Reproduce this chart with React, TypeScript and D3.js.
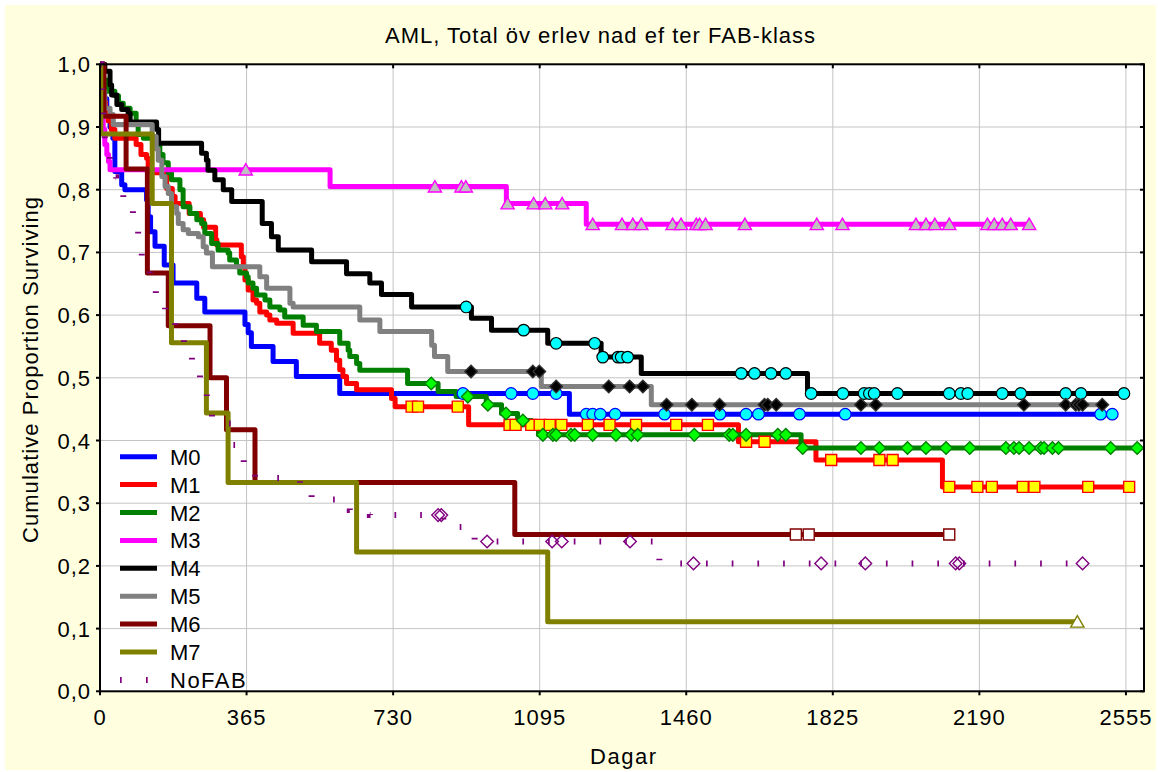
import React from 'react';
import * as d3 from 'd3';

type Step = [number, number];

// Kaplan–Meier survival steps per FAB class: [day, cumulative proportion surviving]
const m0Steps: Step[] = [[0,1],[4,0.97],[10,0.945],[17,0.92],[25,0.9],[32,0.882],[37,0.829],[54,0.808],[62,0.8],[116,0.784],[120,0.757],[126,0.733],[137,0.71],[160,0.68],[182,0.651],[241,0.627],[261,0.605],[361,0.585],[369,0.572],[377,0.55],[431,0.526],[489,0.502],[597,0.475],[1169,0.442]];
const m1Steps: Step[] = [[0,1],[2,0.985],[4,0.97],[7,0.955],[10,0.94],[14,0.925],[20,0.91],[28,0.896],[37,0.882],[90,0.872],[102,0.856],[116,0.85],[120,0.835],[128,0.827],[166,0.802],[180,0.789],[187,0.778],[222,0.762],[250,0.752],[258,0.74],[288,0.72],[291,0.712],[352,0.693],[357,0.677],[361,0.656],[369,0.64],[381,0.624],[390,0.619],[398,0.605],[415,0.6],[423,0.592],[440,0.587],[481,0.571],[547,0.555],[576,0.544],[589,0.528],[597,0.513],[605,0.502],[614,0.491],[639,0.481],[726,0.467],[735,0.454],[918,0.425],[1590,0.398],[1783,0.369],[2098,0.326]];
const m2Steps: Step[] = [[0,1],[2,0.99],[8,0.975],[17,0.957],[37,0.95],[46,0.938],[58,0.93],[75,0.922],[90,0.905],[95,0.888],[108,0.882],[137,0.872],[149,0.856],[157,0.843],[170,0.827],[178,0.816],[199,0.8],[207,0.773],[224,0.762],[241,0.752],[253,0.746],[261,0.73],[278,0.714],[294,0.704],[319,0.699],[323,0.688],[340,0.677],[348,0.667],[365,0.661],[369,0.651],[381,0.643],[390,0.632],[411,0.624],[423,0.613],[448,0.608],[460,0.597],[506,0.584],[539,0.574],[597,0.555],[618,0.544],[622,0.534],[639,0.523],[647,0.512],[766,0.491],[842,0.478],[887,0.47],[962,0.457],[1000,0.443],[1040,0.432],[1075,0.422],[1092,0.409],[1746,0.388]];
const m3Steps: Step[] = [[0,1],[1,0.975],[2,0.95],[3,0.925],[4,0.91],[8,0.896],[12,0.872],[17,0.856],[21,0.845],[25,0.832],[573,0.805],[1012,0.778],[1211,0.745]];
const m4Steps: Step[] = [[0,1],[12,0.989],[25,0.967],[29,0.951],[42,0.936],[54,0.928],[70,0.922],[75,0.908],[141,0.896],[146,0.874],[253,0.858],[265,0.847],[269,0.831],[286,0.816],[307,0.8],[328,0.781],[404,0.746],[427,0.725],[444,0.704],[527,0.685],[614,0.666],[672,0.651],[701,0.633],[776,0.613],[925,0.595],[975,0.576],[1115,0.555],[1248,0.533],[1348,0.507],[1762,0.475]];
const m5Steps: Step[] = [[0,1],[3,0.975],[4,0.957],[12,0.93],[25,0.92],[33,0.904],[130,0.885],[140,0.865],[145,0.847],[154,0.821],[162,0.805],[170,0.794],[178,0.773],[191,0.762],[195,0.746],[207,0.736],[220,0.73],[245,0.725],[257,0.709],[265,0.699],[280,0.677],[398,0.661],[415,0.643],[473,0.619],[481,0.613],[647,0.592],[697,0.574],[826,0.552],[833,0.534],[866,0.51],[1099,0.486],[1373,0.457]];
const m6Steps: Step[] = [[0,1],[10,0.917],[65,0.833],[118,0.667],[170,0.583],[274,0.5],[315,0.417],[386,0.333],[1033,0.25]];
const m7Steps: Step[] = [[0,1],[2,0.889],[130,0.778],[178,0.556],[265,0.444],[319,0.333],[639,0.222],[1115,0.111]];
const noFabSteps: Step[] = [[0,1],[4,0.95],[8,0.906],[12,0.871],[17,0.853],[25,0.835],[33,0.82],[40,0.805],[58,0.778],[82,0.752],[95,0.717],[104,0.683],[124,0.659],[139,0.624],[162,0.603],[187,0.579],[209,0.547],[229,0.526],[249,0.491],[266,0.459],[279,0.427],[328,0.393],[358,0.358],[386,0.34],[498,0.329],[527,0.306],[622,0.289],[672,0.281],[855,0.262],[933,0.239],[1393,0.204]];

// Censored observations (days)
const m0Censored = [904,1024,1078,1136,1211,1227,1246,1283,1406,1544,1609,1640,1742,1856,2492,2521];
const m1Censored = [776,792,891,1020,1035,1074,1095,1120,1149,1215,1269,1335,1435,1514,1609,1655,1821,1941,1974,2115,2185,2221,2298,2327,2461,2563];
const m2Censored = [825,916,966,1011,1053,1103,1128,1136,1173,1182,1227,1285,1323,1339,1480,1567,1576,1609,1688,1708,1750,1895,1941,2011,2057,2107,2166,2256,2276,2289,2314,2343,2351,2372,2387,2517,2583];
const m3Censored = [363,834,900,911,1015,1080,1109,1151,1227,1300,1327,1348,1426,1447,1485,1493,1508,1606,1785,1849,2032,2057,2079,2115,2210,2227,2247,2268,2314];
const m4Censored = [912,1055,1136,1232,1252,1290,1298,1314,1597,1630,1671,1708,1771,1850,1903,1916,1928,1986,2115,2144,2161,2247,2293,2405,2443,2550];
const m5Censored = [924,1078,1094,1136,1267,1319,1352,1411,1474,1543,1655,1663,1684,1895,1932,2301,2405,2430,2438,2447,2496];
const m6Censored = [1733,1765,2115];
const m7Censored = [2434];
const noFabCensored = [842,850,964,1126,1150,1320,1478,1796,1906,2131,2140,2447];

const seriesNames = ['M0','M1','M2','M3','M4','M5','M6','M7','NoFAB'];
const xTicks = [0,365,730,1095,1460,1825,2190,2555];
const yTicks = [0,0.1,0.2,0.3,0.4,0.5,0.6,0.7,0.8,0.9,1.0];
const yTickLabels = ['0,0','0,1','0,2','0,3','0,4','0,5','0,6','0,7','0,8','0,9','1,0'];

type Shape = 'circle' | 'square' | 'diamond' | 'triangle';
interface Series {
  name: string;
  steps: Step[];
  censored: number[];
  color: string;
  shape: Shape;
  fill: string;
  stroke: string;
  dashed?: boolean;
}

const series: Series[] = [
  { name: seriesNames[0], steps: m0Steps, censored: m0Censored, color: '#0000FF', shape: 'circle', fill: '#00FFFF', stroke: '#0000FF' },
  { name: seriesNames[1], steps: m1Steps, censored: m1Censored, color: '#FF0000', shape: 'square', fill: '#FFFF00', stroke: '#FF0000' },
  { name: seriesNames[2], steps: m2Steps, censored: m2Censored, color: '#008000', shape: 'diamond', fill: '#00FF00', stroke: '#008000' },
  { name: seriesNames[3], steps: m3Steps, censored: m3Censored, color: '#FF00FF', shape: 'triangle', fill: '#C0C0C0', stroke: '#FF00FF' },
  { name: seriesNames[4], steps: m4Steps, censored: m4Censored, color: '#000000', shape: 'circle', fill: '#00FFFF', stroke: '#000000' },
  { name: seriesNames[5], steps: m5Steps, censored: m5Censored, color: '#808080', shape: 'diamond', fill: '#000000', stroke: '#303030' },
  { name: seriesNames[6], steps: m6Steps, censored: m6Censored, color: '#800000', shape: 'square', fill: '#FFFFFF', stroke: '#800000' },
  { name: seriesNames[7], steps: m7Steps, censored: m7Censored, color: '#808000', shape: 'triangle', fill: '#FFFFFF', stroke: '#808000' },
  { name: seriesNames[8], steps: noFabSteps, censored: noFabCensored, color: '#800080', shape: 'diamond', fill: 'none', stroke: '#800080', dashed: true },
];

const FONT = "'Liberation Sans', Arial, Helvetica, sans-serif";
const PLOT = { left: 100, right: 1144, top: 64.3, bottom: 691.3 };

function survivalAt(steps: Step[], t: number): number {
  let s = steps[0][1];
  for (const [d, v] of steps) {
    if (d <= t) s = v;
    else break;
  }
  return s;
}

function markerPath(shape: Shape): string {
  switch (shape) {
    case 'diamond':
      return 'M0,-6.3L6.3,0L0,6.3L-6.3,0Z';
    case 'triangle':
      return 'M0,-6L6.6,5.4L-6.6,5.4Z';
    case 'square':
      return 'M-5.5,-5.5H5.5V5.5H-5.5Z';
    default:
      return '';
  }
}

export default function App() {
  const x = d3.scaleLinear().domain([0, 2600]).range([PLOT.left, PLOT.right]);
  const y = d3.scaleLinear().domain([0, 1]).range([PLOT.bottom, PLOT.top]);
  const line = d3
    .line<Step>()
    .x((d) => x(d[0]))
    .y((d) => y(d[1]))
    .curve(d3.curveStepAfter);

  const legendY0 = 456.7;
  const legendDy = 27.9;

  return (
    <svg
      width={1158}
      height={772}
      style={{ position: 'absolute', left: 0, top: 0 }}
      fontFamily={FONT}
    >
      <rect x={0} y={0} width={1158} height={772} fill="#FFFFFF" />
      <rect x={5} y={5} width={1151} height={765} fill="#FFFFE0" />
      <rect
        x={PLOT.left}
        y={PLOT.top}
        width={PLOT.right - PLOT.left}
        height={PLOT.bottom - PLOT.top}
        fill="#FFFFFF"
      />
      <defs>
        <clipPath id="plot-clip">
          <rect
            x={PLOT.left}
            y={PLOT.top - 8}
            width={PLOT.right - PLOT.left}
            height={PLOT.bottom - PLOT.top + 8}
          />
        </clipPath>
      </defs>

      {/* grid */}
      <g stroke="#C4C4C4" strokeWidth={1}>
        {xTicks.slice(1).map((t) => (
          <line key={'gx' + t} x1={x(t)} x2={x(t)} y1={PLOT.top} y2={PLOT.bottom} />
        ))}
        {yTicks.slice(1, -1).map((t) => (
          <line key={'gy' + t} x1={PLOT.left} x2={PLOT.right} y1={y(t)} y2={y(t)} />
        ))}
      </g>

      {/* survival curves */}
      <g clipPath="url(#plot-clip)">
        {series.map((s) => {
          const last = s.steps[s.steps.length - 1];
          const end = Math.max(last[0], d3.max(s.censored) ?? last[0]);
          const pts: Step[] = [...s.steps, [end, last[1]]];
          return (
            <path
              key={'l' + s.name}
              d={line(pts) ?? ''}
              fill="none"
              stroke={s.color}
              strokeWidth={s.dashed ? 6 : 5}
              strokeDasharray={s.dashed ? '1.7 24' : undefined}
              strokeLinejoin={s.dashed ? 'miter' : 'round'}
            />
          );
        })}
        {series.map((s) => (
          <g key={'m' + s.name}>
            {s.censored.map((c, i) => {
              const cx = x(c);
              const cy = y(survivalAt(s.steps, c));
              if (s.shape === 'circle') {
                return (
                  <circle key={i} cx={cx} cy={cy} r={5.8} fill={s.fill} stroke={s.stroke} strokeWidth={1.2} />
                );
              }
              return (
                <path
                  key={i}
                  d={markerPath(s.shape)}
                  transform={`translate(${cx},${cy})`}
                  fill={s.fill}
                  stroke={s.stroke}
                  strokeWidth={1.4}
                />
              );
            })}
          </g>
        ))}
      </g>

      {/* frame and ticks */}
      <g stroke="#000000" strokeWidth={2} fill="none">
        <rect
          x={PLOT.left}
          y={PLOT.top}
          width={PLOT.right - PLOT.left}
          height={PLOT.bottom - PLOT.top}
        />
        {xTicks.map((t) => (
          <g key={'tx' + t}>
            <line x1={x(t)} x2={x(t)} y1={PLOT.bottom} y2={PLOT.bottom + 4} />
            <line x1={x(t)} x2={x(t)} y1={PLOT.top} y2={PLOT.top + 4} />
          </g>
        ))}
        {yTicks.map((t) => (
          <g key={'ty' + t}>
            <line x1={PLOT.left - 4} x2={PLOT.left} y1={y(t)} y2={y(t)} />
            <line x1={PLOT.right - 4} x2={PLOT.right} y1={y(t)} y2={y(t)} />
          </g>
        ))}
      </g>

      {/* tick labels */}
      <g fontSize={22} fill="#000000" letterSpacing={1}>
        {yTicks.map((t, i) => (
          <text key={'ly' + t} x={91} y={y(t) + 8} textAnchor="end">
            {yTickLabels[i]}
          </text>
        ))}
        {xTicks.map((t) => (
          <text key={'lx' + t} x={x(t)} y={725} textAnchor="middle">
            {t}
          </text>
        ))}
      </g>

      {/* titles */}
      <text x={385} y={42.7} fontSize={22} textLength={430} lengthAdjust="spacing" fill="#000">
        AML, Total öv erlev nad ef ter FAB-klass
      </text>
      <text
        transform="translate(37.5,543) rotate(-90)"
        fontSize={22}
        textLength={346}
        lengthAdjust="spacing"
        fill="#000"
      >
        Cumulative Proportion Surviving
      </text>
      <text x={590} y={764} fontSize={22} textLength={66} lengthAdjust="spacing" fill="#000">
        Dagar
      </text>

      {/* legend */}
      <g>
        {series.map((s, i) => {
          const ly = legendY0 + i * legendDy;
          return (
            <g key={'lg' + s.name}>
              <line
                x1={120}
                x2={157}
                y1={ly}
                y2={ly}
                stroke={s.color}
                strokeWidth={s.dashed ? 6 : 5}
                strokeDasharray={s.dashed ? '1.7 24.3' : undefined}
              />
              <text x={170} y={ly + 8} fontSize={22} letterSpacing={s.dashed ? 1.5 : 0} fill="#000">
                {s.name}
              </text>
            </g>
          );
        })}
      </g>
    </svg>
  );
}
